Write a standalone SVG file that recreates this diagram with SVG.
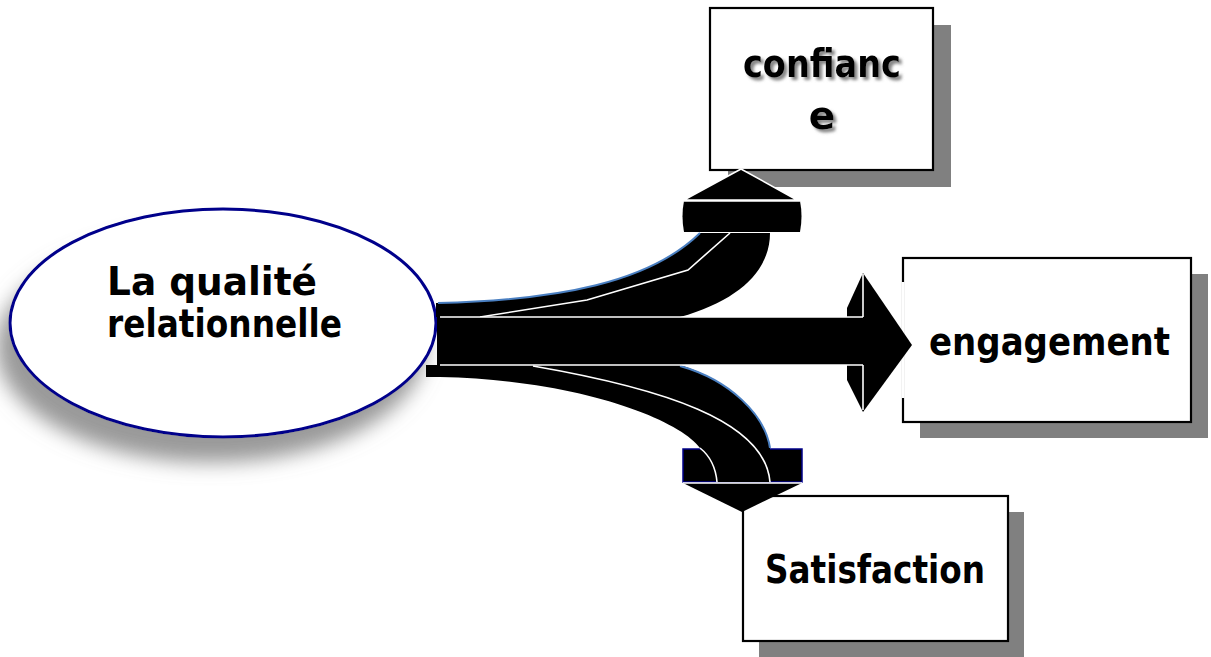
<svg xmlns="http://www.w3.org/2000/svg" width="1211" height="657" viewBox="0 0 1211 657">
<defs>
<filter id="eshadow" x="-20%" y="-20%" width="140%" height="160%">
<feGaussianBlur in="SourceAlpha" stdDeviation="10"/>
<feOffset dx="-12" dy="24" result="b"/>
<feFlood flood-color="#808080" flood-opacity="0.8"/>
<feComposite in2="b" operator="in" result="s"/>
<feMerge><feMergeNode in="s"/><feMergeNode in="SourceGraphic"/></feMerge>
</filter>
<filter id="tshadow" x="-10%" y="-20%" width="130%" height="150%">
<feGaussianBlur in="SourceAlpha" stdDeviation="1.8"/>
<feOffset dx="2.5" dy="2.5" result="b"/>
<feFlood flood-color="#707070" flood-opacity="0.85"/>
<feComposite in2="b" operator="in" result="s"/>
<feMerge><feMergeNode in="s"/><feMergeNode in="SourceGraphic"/></feMerge>
</filter>
</defs>
<style>
.lbl{font-family:"DejaVu Sans",Verdana,sans-serif;font-weight:bold;font-size:39px;fill:#000;text-anchor:middle}
.box{fill:#fff;stroke:#000;stroke-width:2.2}
.shd{fill:#808080}
.blk{fill:#000}
.wl{fill:none;stroke:#fff;stroke-width:1.6}
.bl{fill:none;stroke:#4a7fc1;stroke-width:2}
</style>

<g id="node-confiance">
<rect class="shd" x="728" y="25" width="223" height="162"/>
<rect class="box" x="710" y="8" width="223" height="162"/>
<g filter="url(#tshadow)">
<text class="lbl" x="822" y="77" textLength="158" lengthAdjust="spacingAndGlyphs">confianc</text>
<text class="lbl" x="822" y="129">e</text>
</g>
</g>

<g id="node-engagement">
<rect class="shd" x="920" y="274" width="288" height="164"/>
<rect class="box" x="903" y="258" width="288" height="164"/>
<line x1="903" y1="282" x2="903" y2="398" stroke="#fff" stroke-width="3"/>
<text class="lbl" x="1049.5" y="355" textLength="241" lengthAdjust="spacingAndGlyphs">engagement</text>
</g>

<g id="node-satisfaction">
<rect class="shd" x="759" y="512" width="265" height="145"/>
<rect class="box" x="743" y="496" width="265" height="145"/>
<text class="lbl" x="875" y="583" textLength="220" lengthAdjust="spacingAndGlyphs">Satisfaction</text>
</g>

<g id="node-qualite">
<ellipse cx="223" cy="323" rx="213" ry="114" fill="#fff" stroke="#00008b" stroke-width="3" filter="url(#eshadow)"/>
<text class="lbl" x="212" y="295" textLength="210" lengthAdjust="spacingAndGlyphs">La qualité</text>
<text class="lbl" x="224.5" y="337" textLength="235" lengthAdjust="spacingAndGlyphs">relationnelle</text>
</g>

<g id="connectors">
<!-- upper branch to confiance -->
<path class="blk" d="M436,303 C560,300 650,282 700,233 L770,233 C770,270 740,300 680,317 L436,317 Z"/>
<path class="bl" d="M438,303 C560,300 650,282 700,233"/>
<polyline class="wl" points="480,317 587,300 688,270 730,233"/>
<path class="blk" d="M684,201 L800,201 Q803,216 800,232 L684,232 Q681,216 684,201 Z"/>
<polygon class="blk" points="684,200 741,169 797,200" stroke="#fff" stroke-width="1.5" stroke-linejoin="round"/>
<line x1="684" y1="201" x2="800" y2="201" stroke="#fff" stroke-width="1.5"/>

<!-- lower branch to satisfaction -->
<path class="blk" d="M437,365 L680,365 C730,380 765,415 770,448 L770,482 L717,482 Q715,460 700,448 C680,420 580,380 440,377 L426,377 L426,365 Z"/>
<path class="bl" d="M680,366 C730,380 765,415 770,448"/>
<rect x="683" y="449" width="119" height="33" fill="#000" stroke="#00008b" stroke-width="1.5"/>
<path class="blk" d="M683,448 L700,448 C715,460 717,470 717,482 L770,482 L770,448 L683,448 Z"/>
<path class="wl" d="M533,366 C660,388 765,420 770,482"/>
<path class="wl" d="M700,448 Q715,460 717,482"/>
<polygon class="blk" points="683,483 802,483 742,512"/>
<line x1="683" y1="483" x2="802" y2="483" stroke="#fff" stroke-width="1.5"/>

<!-- main arrow to engagement -->
<rect class="blk" x="437" y="317" width="412" height="48"/>
<polygon class="blk" points="847,317 847,308 863,273 912,345 863,412 847,380 847,365"/>
<line class="wl" x1="440" y1="317" x2="863" y2="317"/>
<line class="wl" x1="440" y1="365" x2="863" y2="365"/>
<line class="wl" x1="863" y1="274" x2="863" y2="317"/>
<line class="wl" x1="863" y1="365" x2="863" y2="410"/>
</g>
</svg>
